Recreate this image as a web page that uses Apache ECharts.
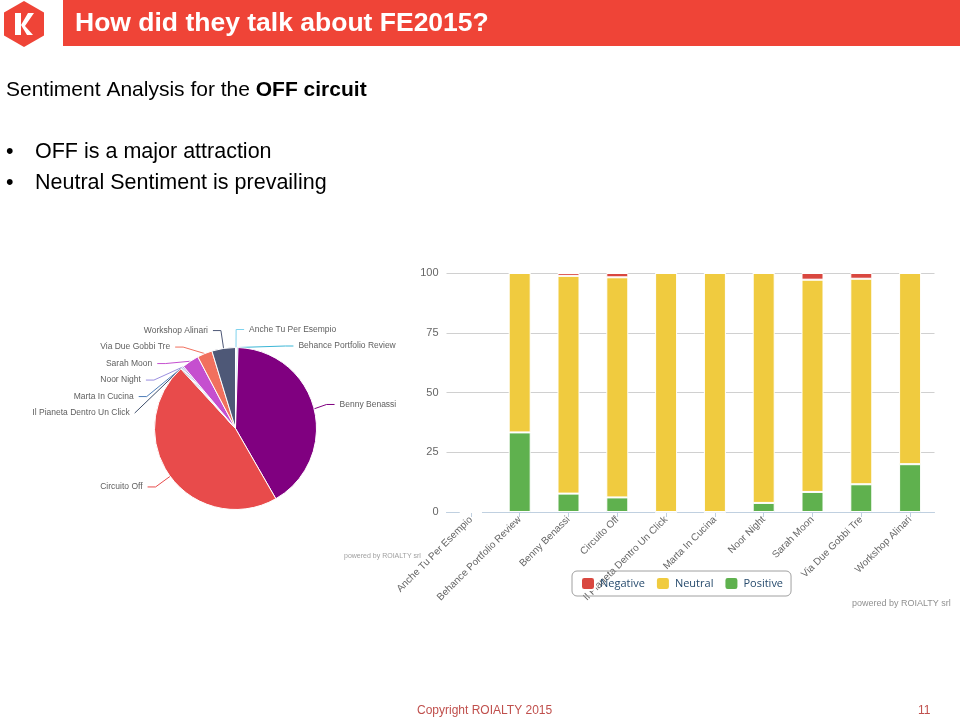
<!DOCTYPE html>
<html>
<head>
<meta charset="utf-8">
<script src="https://cdn.jsdelivr.net/npm/echarts@6/dist/echarts.min.js"></script>
<style>
html,body{margin:0;padding:0;background:#fff;}
#c{width:960px;height:721px;}
</style>
</head>
<body>
<div id="c"></div>
<script>
// ---- data ----
var categories = ['Anche Tu Per Esempio','Behance Portfolio Review','Benny Benassi','Circuito Off','Il Pianeta Dentro Un Click','Marta In Cucina','Noor Night','Sarah Moon','Via Due Gobbi Tre','Workshop Alinari'];
var negativeValues = [0, 0, 1.2, 1.8, 0, 0, 0, 2.8, 2.4, 0];
var neutralValues  = [0, 66.7, 91.1, 92.1, 100, 100, 96.2, 88.8, 86.0, 80.0];
var positiveValues = [0, 33.3, 7.7, 6.1, 0, 0, 3.8, 8.4, 11.6, 20.0];
var pieNames  = ['Anche Tu Per Esempio','Behance Portfolio Review','Benny Benassi','Circuito Off','Il Pianeta Dentro Un Click','Marta In Cucina','Noor Night','Sarah Moon','Via Due Gobbi Tre','Workshop Alinari'];
var pieValues = [0.2, 0.3, 41.2, 46.5, 0.2, 0.2, 0.3, 3.4, 3.0, 4.7];
var yTicks = [0, 25, 50, 75, 100];
var seriesNames = ['Negative', 'Neutral', 'Positive'];

var pieColors = ['#7fd3ee','#3bb6d6','#800080','#e84b4b','#3f4f6b','#4d7db8','#9b8fe0','#c54fcf','#f1705e','#4e5877'];
var barColors = {Negative:'#d9473f', Neutral:'#f0cb3f', Positive:'#5fb14e'};

var chart = echarts.init(document.getElementById('c'), null, {renderer:'canvas'});
var lbl = '"Liberation Sans", Arial, sans-serif';

var option = {
  backgroundColor: '#ffffff',
  animation: false,
  legend: {
    data: seriesNames,
    left: 572, top: 571,
    orient: 'horizontal',
    itemWidth: 14, itemHeight: 13, itemGap: 10,
    icon: 'roundRect',
    padding: [5, 8, 5, 8],
    borderColor: '#a0a0a0', borderWidth: 1, borderRadius: 5,
    textStyle: {color: '#274b6d', fontSize: 11, fontFamily: '"Open Sans", sans-serif'}
  },
  grid: {left: 446.5, right: 25.5, top: 273, bottom: 209, containLabel: false},
  xAxis: {
    type: 'category',
    data: categories,
    boundaryGap: true,
    axisLine: {lineStyle: {color: '#c0d0e0'}},
    axisTick: {show: true, alignWithLabel: true, length: 5, lineStyle: {color: '#c0d0e0'}},
    axisLabel: {interval: 0, rotate: 45, color: '#666', fontSize: 10, fontFamily: lbl, margin: 6}
  },
  yAxis: {
    type: 'value', min: 0, max: 100, interval: 25,
    axisLine: {show: false}, axisTick: {show: false},
    splitLine: {lineStyle: {color: '#d0d0d0'}},
    axisLabel: {color: '#666', fontSize: 11, fontFamily: lbl, margin: 8,
      customValues: yTicks}
  },
  series: [
    {name: 'Positive', type: 'bar', stack: 's', data: positiveValues, barWidth: 22,
     itemStyle: {color: barColors.Positive, borderColor: '#fff', borderWidth: 1}},
    {name: 'Neutral', type: 'bar', stack: 's', data: neutralValues, barWidth: 22,
     itemStyle: {color: barColors.Neutral, borderColor: '#fff', borderWidth: 1}},
    {name: 'Negative', type: 'bar', stack: 's', data: negativeValues, barWidth: 22,
     itemStyle: {color: barColors.Negative, borderColor: '#fff', borderWidth: 1}},
    {
      name: 'Mentions', type: 'pie',
      center: [235.5, 428.5], radius: 81,
      startAngle: 90, clockwise: true,
      avoidLabelOverlap: true,
      legendHoverLink: false,
      itemStyle: {borderColor: '#fff', borderWidth: 1},
      label: {show: true, position: 'outside', color: '#606060', fontSize: 8.5, lineHeight: 14.5, fontFamily: lbl, alignTo: 'none'},
      labelLine: {show: true, length: 18, length2: 8, lineStyle: {width: 1}},
      data: pieNames.map(function(n, i){ return {name: n, value: pieValues[i], itemStyle: {color: pieColors[i]}}; })
    }
  ],
  graphic: [
    // header bar
    {type: 'rect', shape: {x: 63, y: 0, width: 897, height: 46}, style: {fill: '#ef4437'}},
    {type: 'text', x: 75, y: 24, style: {text: 'How did they talk about FE2015?', fill: '#ffffff', font: 'bold 26.5px "Liberation Sans", Arial, sans-serif', verticalAlign: 'middle'}},
    // logo
    {type: 'polygon', shape: {points: [[24,1],[44,12.5],[44,35.5],[24,47],[4,35.5],[4,12.5]]}, style: {fill: '#ef4437'}},
    {type: 'polygon', shape: {points: [[15,13],[21,13],[21,35],[15,35]]}, style: {fill: '#ffffff'}},
    {type: 'polygon', shape: {points: [[21,25],[28,13],[34,13],[25,26],[33,35],[27,35]]}, style: {fill: '#ffffff'}},
    // subtitle
    {type: 'text', x: 6, y: 90, style: {
      text: '{n|Sentiment Analysis for the }{b|OFF circuit}',
      verticalAlign: 'middle',
      rich: {
        n: {font: '21px "Liberation Sans", Arial, sans-serif', fill: '#000'},
        b: {font: 'bold 21px "Liberation Sans", Arial, sans-serif', fill: '#000'}
      }}},
    {type: 'text', x: 6, y: 152, style: {text: '•', fill: '#000', font: '21.5px "Liberation Sans", Arial, sans-serif', verticalAlign: 'middle'}},
    {type: 'text', x: 35, y: 152, style: {text: 'OFF is a major attraction', fill: '#000', font: '21.5px "Liberation Sans", Arial, sans-serif', verticalAlign: 'middle'}},
    {type: 'text', x: 6, y: 183, style: {text: '•', fill: '#000', font: '21.5px "Liberation Sans", Arial, sans-serif', verticalAlign: 'middle'}},
    {type: 'text', x: 35, y: 183, style: {text: 'Neutral Sentiment is prevailing', fill: '#000', font: '21.5px "Liberation Sans", Arial, sans-serif', verticalAlign: 'middle'}},
    // powered by
    {type: 'text', x: 344, y: 556, style: {text: 'powered by ROIALTY srl', fill: '#a0a0a0', font: '7px "Liberation Sans", Arial, sans-serif', verticalAlign: 'middle'}},
    {type: 'text', x: 852, y: 604, style: {text: 'powered by ROIALTY srl', fill: '#909090', font: '9px "Liberation Sans", Arial, sans-serif', verticalAlign: 'middle'}},
    // footer
    {type: 'text', x: 417, y: 711, style: {text: 'Copyright ROIALTY 2015', fill: '#c0504d', font: '12px "Liberation Sans", Arial, sans-serif', verticalAlign: 'middle'}},
    {type: 'text', x: 918, y: 711, style: {text: '11', fill: '#c0504d', font: '12px "Liberation Sans", Arial, sans-serif', verticalAlign: 'middle'}}
  ]
};
chart.setOption(option);
</script>
</body>
</html>
